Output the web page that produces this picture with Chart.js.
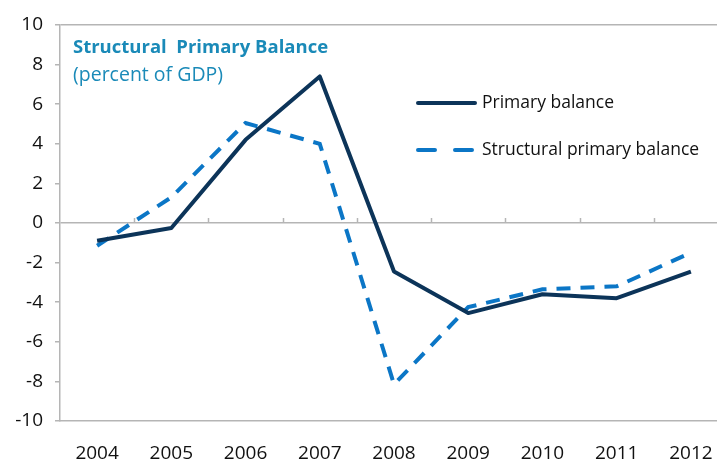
<!DOCTYPE html>
<html>
<head>
<meta charset="utf-8">
<script src="https://cdn.jsdelivr.net/npm/chart.js@4/dist/chart.umd.min.js"></script>
<style>
  html, body { margin: 0; padding: 0; background: #fff; overflow: hidden; }
  #wrap { width: 728px; height: 461px; position: relative; }
</style>
</head>
<body>
<div id="wrap"><canvas id="c"></canvas></div>
<script>
const years = ['2004','2005','2006','2007','2008','2009','2010','2011','2012'];
const primaryBalance = [-0.9, -0.25, 4.2, 7.4, -2.45, -4.55, -3.6, -3.8, -2.45];
const structuralPrimaryBalance = [-1.15, 1.3, 5.05, 4.0, -8.15, -4.25, -3.35, -3.2, -1.5];
const seriesNames = ['Primary balance', 'Structural primary balance'];
const yTicks = [-10, -8, -6, -4, -2, 0, 2, 4, 6, 8, 10];
const titleLines = ['Structural  Primary Balance', '(percent of GDP)'];

const FONT = "'Open Sans', 'Noto Sans', sans-serif";
const AXIS_GRAY = '#b5b5b5';
const NAVY = '#0c3459';
const BLUE = '#0b76c6';
const TITLE_COLOR = '#1a8ab8';

const overlay = {
  id: 'overlay',
  afterDraw(chart) {
    const ctx = chart.ctx;
    const area = chart.chartArea;
    const x = chart.scales.x, y = chart.scales.y;
    const y0 = y.getPixelForValue(0);
    ctx.save();
    ctx.strokeStyle = AXIS_GRAY;
    ctx.lineWidth = 1.5;
    const step = x.getPixelForValue(1) - x.getPixelForValue(0);
    for (let i = 1; i < years.length; i++) {
      const px = Math.round(x.getPixelForValue(i) - step / 2) + 0.5;
      ctx.beginPath();
      ctx.moveTo(px, y0);
      ctx.lineTo(px, y0 - 5);
      ctx.stroke();
    }
    // Title
    ctx.textBaseline = 'middle';
    ctx.textAlign = 'left';
    ctx.fillStyle = TITLE_COLOR;
    ctx.font = "bold 18.5px " + FONT;
    ctx.fillText(titleLines[0], area.left + 13, area.top + 23);
    ctx.font = "19.5px " + FONT;
    ctx.fillText(titleLines[1], area.left + 13, area.top + 50);
    // Legend
    const ds = chart.data.datasets;
    const lx = 418, lw = 57, ly = [103, 150];
    ds.forEach((d, i) => {
      ctx.strokeStyle = d.borderColor;
      ctx.lineWidth = d.borderWidth;
      ctx.setLineDash(i === 1 ? [17, 20] : []);
      ctx.lineCap = 'round';
      ctx.beginPath();
      ctx.moveTo(lx, ly[i]);
      ctx.lineTo(lx + lw, ly[i]);
      ctx.stroke();
      ctx.setLineDash([]);
      ctx.fillStyle = '#111';
      ctx.font = "17.5px " + FONT;
      ctx.fillText(d.label, lx + lw + 7, ly[i]);
    });
    ctx.restore();
  }
};

new Chart(document.getElementById('c'), {
  type: 'line',
  data: {
    labels: years,
    datasets: [
      {
        label: seriesNames[0],
        data: primaryBalance,
        borderColor: NAVY,
        backgroundColor: NAVY,
        borderWidth: 4,
        pointRadius: 0,
        tension: 0,
        borderJoinStyle: 'round',
        order: 1
      },
      {
        label: seriesNames[1],
        data: structuralPrimaryBalance,
        borderColor: BLUE,
        backgroundColor: BLUE,
        borderWidth: 4,
        borderDash: [14, 10],
        pointRadius: 0,
        tension: 0,
        order: 2
      }
    ]
  },
  options: {
    responsive: true,
    maintainAspectRatio: false,
    animation: false,
    layout: { padding: { top: 25, left: 0, right: 0, bottom: 0 } },
    plugins: {
      legend: { display: false },
      tooltip: { enabled: false },
      title: { display: false }
    },
    scales: {
      x: {
        offset: true,
        grid: { display: false, offset: true },
        border: { display: true, color: AXIS_GRAY, width: 1.5 },
        ticks: { color: '#111', font: { family: FONT, size: 19 }, padding: 13, maxRotation: 0 },
        afterFit(s) { s.height = 40; }
      },
      y: {
        min: -10,
        max: 10,
        afterBuildTicks(s) { s.ticks = yTicks.map(v => ({ value: v })); },
        grid: {
          color: (c) => (c.tick && (c.tick.value === 0 || c.tick.value === 10)) ? AXIS_GRAY : 'rgba(0,0,0,0)',
          lineWidth: 1.5,
          tickColor: AXIS_GRAY,
          tickLength: 5,
          drawTicks: true
        },
        border: { display: true, color: AXIS_GRAY, width: 1.5 },
        ticks: { color: '#111', font: { family: FONT, size: 19 }, padding: 12 },
        afterFit(s) { s.width = 60; }
      }
    }
  },
  plugins: [overlay]
});
</script>
</body>
</html>
